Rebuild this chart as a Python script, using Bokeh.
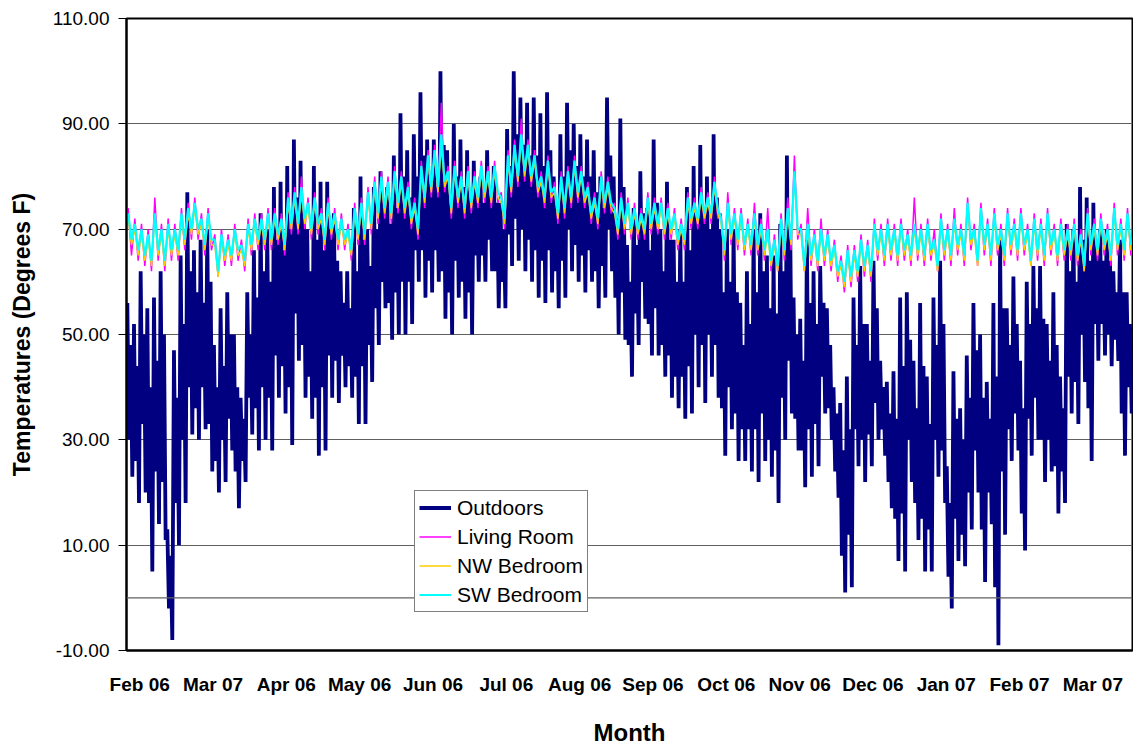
import numpy as np
from bokeh.plotting import figure
from bokeh.models import Range1d, FixedTicker, NumeralTickFormatter, Span, Legend, LegendItem
from bokeh.embed import file_html
from bokeh.resources import INLINE

# ---------------- data ----------------
month_labels = ["Feb 06", "Mar 07", "Apr 06", "May 06", "Jun 06", "Jul 06", "Aug 06",
                "Sep 06", "Oct 06", "Nov 06", "Dec 06", "Jan 07", "Feb 07", "Mar 07"]
y_ticks = [-10, 10, 30, 50, 70, 90, 110]

# Outdoors: two highs and two lows read in each ~2.8-day interval
out_hi = [56, 52, 62, 55, 57, 62, 13, 47, 65, 77,
          66, 68, 70, 48, 55, 58, 50, 38, 58, 66,
          73, 70, 78, 79, 82, 87, 83, 70, 82, 79,
          79, 73, 62, 62, 74, 80, 70, 78, 81, 78,
          84, 92, 85, 88, 96, 87, 87, 100, 85, 90,
          87, 85, 83, 80, 85, 82, 75, 89, 100, 95,
          94, 95, 92, 96, 80, 88, 94, 90, 88, 87,
          85, 80, 95, 80, 91, 67, 74, 81, 74, 87,
          70, 79, 68, 70, 78, 82, 86, 80, 88, 70,
          70, 70, 56, 62, 70, 73, 65, 65, 71, 84,
          57, 53, 68, 62, 63, 55, 40, 37, 42, 57,
          63, 52, 64, 45, 41, 43, 57, 58, 45, 56,
          42, 57, 64, 25, 43, 36, 46, 56, 50, 41,
          56, 68, 55, 61, 45, 60, 63, 63, 52, 58,
          42, 71, 70, 78, 76, 75, 70, 70, 62, 68,
          58]
out_hi2 = [48, 44, 50, 40, 45, 50, 8, 38, 52, 62,
           58, 56, 60, 40, 44, 50, 40, 34, 50, 57,
           62, 60, 68, 66, 70, 76, 72, 62, 68, 66,
           70, 64, 56, 55, 62, 68, 63, 70, 74, 71,
           74, 80, 76, 80, 84, 80, 78, 86, 76, 80,
           78, 76, 77, 75, 78, 75, 70, 82, 88, 86,
           84, 84, 82, 85, 74, 80, 85, 82, 80, 80,
           77, 74, 84, 72, 78, 60, 67, 73, 66, 75,
           62, 68, 60, 60, 66, 72, 74, 70, 76, 58,
           60, 58, 48, 52, 58, 62, 55, 54, 62, 70,
           50, 45, 56, 52, 56, 48, 35, 28, 32, 48,
           52, 45, 55, 40, 35, 34, 44, 49, 36, 44,
           33, 48, 52, 18, 34, 30, 38, 47, 38, 34,
           42, 55, 48, 52, 36, 52, 55, 53, 45, 48,
           36, 62, 60, 68, 64, 68, 64, 64, 58, 58,
           52]
out_lo2 = [30, 26, 33, 18, 24, 22, -2, 18, 30, 40,
           36, 40, 33, 26, 30, 34, 24, 26, 38, 36,
           40, 38, 46, 44, 40, 54, 48, 42, 38, 40,
           46, 45, 46, 44, 42, 44, 48, 55, 60, 56,
           58, 60, 60, 66, 66, 64, 66, 62, 58, 64,
           60, 58, 65, 65, 68, 62, 60, 69, 72, 70,
           68, 66, 64, 66, 62, 64, 70, 67, 65, 66,
           62, 63, 70, 57, 58, 48, 54, 60, 52, 55,
           48, 46, 42, 42, 44, 50, 48, 50, 48, 36,
           40, 35, 32, 32, 32, 35, 30, 28, 38, 45,
           34, 28, 32, 33, 42, 36, 24, 8, 12, 32,
           30, 31, 37, 32, 22, 15, 16, 30, 18, 15,
           13, 30, 28, 4, 15, 12, 20, 28, 13, 20,
           2, 24, 32, 35, 16, 34, 38, 30, 30, 25,
           24, 42, 41, 50, 36, 52, 52, 50, 49, 35,
           40]
out_lo = [23, 18, 20, 5, 14, 11, -8, 10, 18, 31,
          30, 32, 24, 20, 22, 28, 17, 22, 31, 28,
          30, 28, 38, 35, 29, 45, 38, 34, 27, 28,
          38, 37, 40, 38, 33, 33, 41, 48, 55, 49,
          50, 50, 52, 60, 57, 58, 60, 53, 50, 57,
          53, 50, 60, 60, 62, 55, 55, 63, 64, 62,
          60, 57, 56, 58, 55, 57, 62, 60, 58, 60,
          55, 57, 62, 50, 49, 42, 48, 53, 46, 46,
          42, 38, 36, 34, 35, 40, 37, 42, 38, 27,
          32, 26, 26, 24, 22, 26, 23, 18, 30, 35,
          28, 21, 23, 25, 35, 30, 19, 1, 2, 25,
          22, 25, 30, 27, 17, 7, 5, 22, 11, 5,
          5, 23, 18, -2, 7, 6, 13, 20, 3, 14,
          -9, 12, 26, 28, 9, 27, 30, 22, 24, 16,
          18, 35, 33, 41, 26, 45, 46, 44, 45, 27,
          35]

lr_hi = [74, 72, 71, 70, 76, 71, 72, 71, 74, 75,
         76, 73, 74, 69, 70, 69, 71, 68, 72, 73,
         73, 74, 74, 73, 77, 78, 80, 76, 77, 74,
         76, 74, 73, 71, 75, 76, 78, 80, 81, 80,
         82, 81, 79, 76, 83, 85, 86, 94, 82, 83,
         81, 82, 81, 83, 82, 83, 77, 85, 87, 91,
         87, 85, 81, 84, 79, 81, 82, 84, 82, 79,
         77, 81, 80, 75, 77, 76, 75, 74, 77, 76,
         76, 75, 74, 72, 77, 76, 78, 77, 80, 73,
         77, 74, 74, 72, 75, 72, 74, 69, 73, 76,
         84, 71, 74, 70, 72, 70, 68, 65, 67, 67,
         69, 68, 72, 71, 72, 71, 72, 70, 76, 71,
         72, 70, 73, 71, 74, 71, 76, 71, 75, 72,
         74, 71, 74, 72, 74, 71, 73, 72, 74, 71,
         72, 71, 72, 70, 74, 72, 73, 71, 75, 72,
         74]
lr_lo = [65, 64, 63, 62, 64, 62, 64, 64, 66, 68,
         68, 65, 66, 61, 63, 63, 64, 62, 65, 66,
         66, 66, 67, 65, 69, 69, 70, 68, 69, 66,
         68, 66, 66, 64, 67, 67, 69, 71, 72, 71,
         73, 72, 70, 68, 74, 76, 76, 77, 72, 74,
         72, 73, 74, 75, 74, 75, 70, 76, 78, 79,
         78, 76, 74, 75, 71, 72, 74, 75, 74, 71,
         70, 73, 73, 68, 69, 68, 68, 68, 69, 69,
         68, 68, 66, 66, 70, 70, 71, 71, 72, 64,
         67, 66, 65, 65, 65, 64, 62, 62, 64, 66,
         68, 62, 63, 62, 63, 62, 60, 58, 59, 60,
         61, 60, 64, 63, 64, 63, 64, 63, 64, 63,
         64, 62, 64, 63, 65, 63, 66, 63, 65, 63,
         65, 63, 65, 64, 65, 63, 64, 63, 65, 63,
         64, 64, 63, 62, 65, 64, 65, 63, 65, 64,
         65]

nw_hi = [72, 70, 69, 68, 72, 69, 70, 69, 72, 73,
         74, 71, 72, 67, 68, 67, 69, 66, 70, 71,
         71, 72, 72, 71, 75, 76, 77, 74, 75, 72,
         74, 72, 71, 69, 73, 74, 76, 78, 79, 78,
         80, 79, 77, 74, 81, 83, 84, 86, 80, 81,
         79, 80, 79, 81, 80, 81, 75, 83, 85, 87,
         85, 83, 79, 82, 77, 79, 80, 82, 80, 77,
         75, 79, 78, 73, 75, 74, 73, 72, 75, 74,
         74, 73, 72, 70, 75, 74, 76, 75, 78, 71,
         74, 72, 72, 70, 72, 70, 69, 67, 71, 73,
         80, 69, 70, 68, 69, 68, 66, 63, 65, 65,
         67, 66, 70, 69, 70, 69, 70, 68, 70, 69,
         70, 67, 71, 69, 71, 69, 74, 69, 73, 70,
         72, 69, 72, 70, 72, 69, 71, 70, 72, 69,
         70, 69, 70, 68, 72, 70, 71, 69, 73, 70,
         72]
nw_lo = [67, 65, 64, 63, 65, 63, 65, 65, 67, 69,
         69, 66, 67, 61, 64, 64, 65, 63, 66, 67,
         67, 67, 68, 66, 70, 70, 71, 69, 70, 67,
         69, 67, 67, 65, 68, 68, 70, 72, 73, 72,
         74, 73, 71, 69, 75, 77, 77, 78, 73, 75,
         73, 74, 75, 76, 75, 76, 71, 77, 79, 80,
         79, 77, 75, 76, 72, 73, 75, 76, 75, 72,
         71, 74, 74, 69, 70, 69, 69, 69, 70, 70,
         69, 69, 67, 67, 71, 71, 72, 72, 73, 65,
         68, 67, 66, 66, 66, 65, 63, 62, 65, 67,
         69, 62, 64, 63, 64, 63, 61, 59, 60, 61,
         62, 61, 65, 64, 65, 64, 65, 64, 65, 64,
         65, 62, 65, 64, 66, 64, 67, 63, 66, 64,
         66, 64, 66, 65, 66, 63, 65, 64, 66, 64,
         65, 65, 64, 62, 66, 65, 66, 64, 66, 65,
         66]

sw_hi = [73, 71, 70, 69, 73, 70, 71, 70, 73, 74,
         75, 72, 73, 68, 69, 68, 70, 67, 71, 72,
         72, 73, 73, 72, 76, 77, 78, 75, 76, 73,
         75, 73, 72, 70, 74, 75, 77, 79, 80, 79,
         81, 80, 78, 75, 82, 84, 85, 88, 81, 82,
         80, 81, 80, 82, 81, 82, 76, 84, 86, 88,
         86, 84, 80, 83, 78, 80, 81, 83, 81, 78,
         76, 80, 79, 74, 76, 75, 74, 73, 76, 75,
         75, 74, 73, 71, 76, 75, 77, 76, 79, 72,
         75, 73, 73, 71, 73, 71, 70, 68, 72, 74,
         81, 70, 71, 69, 70, 69, 67, 64, 66, 66,
         68, 67, 71, 70, 71, 70, 71, 69, 71, 70,
         71, 68, 72, 70, 72, 70, 75, 70, 74, 71,
         73, 70, 73, 71, 73, 70, 72, 71, 73, 70,
         71, 70, 71, 69, 73, 71, 72, 70, 74, 71,
         73]
sw_lo = [68, 66, 65, 64, 66, 64, 66, 66, 68, 70,
         70, 67, 68, 62, 65, 65, 66, 64, 67, 68,
         68, 68, 69, 67, 71, 71, 72, 70, 71, 68,
         70, 68, 68, 66, 69, 69, 71, 73, 74, 73,
         75, 74, 72, 70, 76, 78, 78, 79, 74, 76,
         74, 75, 76, 77, 76, 77, 72, 78, 80, 81,
         80, 78, 76, 77, 73, 74, 76, 77, 76, 73,
         72, 75, 75, 70, 71, 70, 70, 70, 71, 71,
         70, 70, 68, 68, 72, 72, 73, 73, 74, 66,
         69, 68, 67, 67, 67, 66, 64, 63, 66, 68,
         70, 63, 65, 64, 65, 64, 62, 60, 61, 62,
         63, 62, 66, 65, 66, 65, 66, 65, 66, 65,
         66, 63, 66, 65, 67, 65, 68, 64, 67, 65,
         67, 65, 67, 66, 67, 64, 66, 65, 67, 65,
         66, 66, 65, 63, 67, 66, 67, 65, 67, 66,
         67]

# time axis in months (label i sits at month i); readings evenly spaced in time
t_start, t_end = -0.18, 13.54
n = len(out_hi)
t4 = t_start + (np.arange(4 * n) + 0.5) * (t_end - t_start) / (4 * n)
t2 = t_start + (np.arange(2 * n) + 0.5) * (t_end - t_start) / (2 * n)


def interleave(*cols):
    return np.column_stack(cols).ravel()


FONT = "Liberation Sans"

p = figure(width=1133, height=748, x_range=Range1d(t_start, t_end), y_range=Range1d(-10, 110),
           output_backend="svg", toolbar_location=None,
           min_border_left=126, min_border_right=1, min_border_top=18, min_border_bottom=98)
p.background_fill_color = "white"
p.border_fill_color = "white"
p.outline_line_color = "black"
p.outline_line_width = 2

r_out = p.line(t4, interleave(out_hi, out_lo2, out_hi2, out_lo), line_color="#000080", line_width=3.8)
r_lr = p.line(t2, interleave(lr_hi, lr_lo), line_color="#FF00FF", line_width=1.5)
r_nw = p.line(t2, interleave(nw_hi, nw_lo), line_color="#FFCC00", line_width=1.5)
r_sw = p.line(t2, interleave(sw_hi, sw_lo), line_color="#00FFFF", line_width=2.2)

# grid
p.xgrid.visible = False
p.ygrid.ticker = FixedTicker(ticks=y_ticks)
p.ygrid.grid_line_color = "#606060"
p.ygrid.grid_line_width = 1.2
p.add_layout(Span(location=0, dimension="width", line_color="#606060", line_width=1.2))

# y axis
p.yaxis.ticker = FixedTicker(ticks=y_ticks)
p.yaxis.formatter = NumeralTickFormatter(format="0.00")
p.yaxis.minor_tick_line_color = None
p.yaxis.major_tick_out = 8
p.yaxis.major_tick_in = 0
p.yaxis.major_tick_line_color = "black"
p.yaxis.major_label_standoff = 9
p.yaxis.major_label_text_font = FONT
p.yaxis.major_label_text_font_size = "19px"
p.yaxis.major_label_text_color = "black"
p.yaxis.axis_line_color = "black"
p.yaxis.axis_line_width = 2
p.yaxis.axis_label = "Temperatures (Degrees F)"
p.yaxis.axis_label_text_font = FONT
p.yaxis.axis_label_text_font_size = "23px"
p.yaxis.axis_label_text_font_style = "bold"
p.yaxis.axis_label_text_color = "black"
p.yaxis.axis_label_standoff = 15

# x axis
p.xaxis.ticker = FixedTicker(ticks=list(range(len(month_labels))))
p.xaxis.major_label_overrides = {i: lab for i, lab in enumerate(month_labels)}
p.xaxis.minor_tick_line_color = None
p.xaxis.major_tick_line_color = None
p.xaxis.major_tick_out = 0
p.xaxis.major_tick_in = 0
p.xaxis.major_label_standoff = 23
p.xaxis.major_label_text_font = FONT
p.xaxis.major_label_text_font_size = "19px"
p.xaxis.major_label_text_font_style = "bold"
p.xaxis.major_label_text_color = "black"
p.xaxis.axis_line_color = "black"
p.xaxis.axis_line_width = 2
p.xaxis.axis_label = "Month"
p.xaxis.axis_label_text_font = FONT
p.xaxis.axis_label_text_font_size = "24px"
p.xaxis.axis_label_text_font_style = "bold"
p.xaxis.axis_label_text_color = "black"
p.xaxis.axis_label_standoff = 21

legend = Legend(items=[LegendItem(label="Outdoors", renderers=[r_out]),
                       LegendItem(label="Living Room", renderers=[r_lr]),
                       LegendItem(label="NW Bedroom", renderers=[r_nw]),
                       LegendItem(label="SW Bedroom", renderers=[r_sw])],
                location=(288, 38))
legend.label_text_font = FONT
legend.label_text_font_size = "21px"
legend.label_text_color = "black"
legend.glyph_width = 32
legend.glyph_height = 25
legend.label_height = 25
legend.label_standoff = 6
legend.spacing = 4
legend.padding = 4
legend.margin = 0
legend.border_line_color = "black"
legend.border_line_width = 1
legend.background_fill_color = "white"
legend.background_fill_alpha = 1.0
p.add_layout(legend)

open("out.html", "w").write(file_html(p, INLINE))
